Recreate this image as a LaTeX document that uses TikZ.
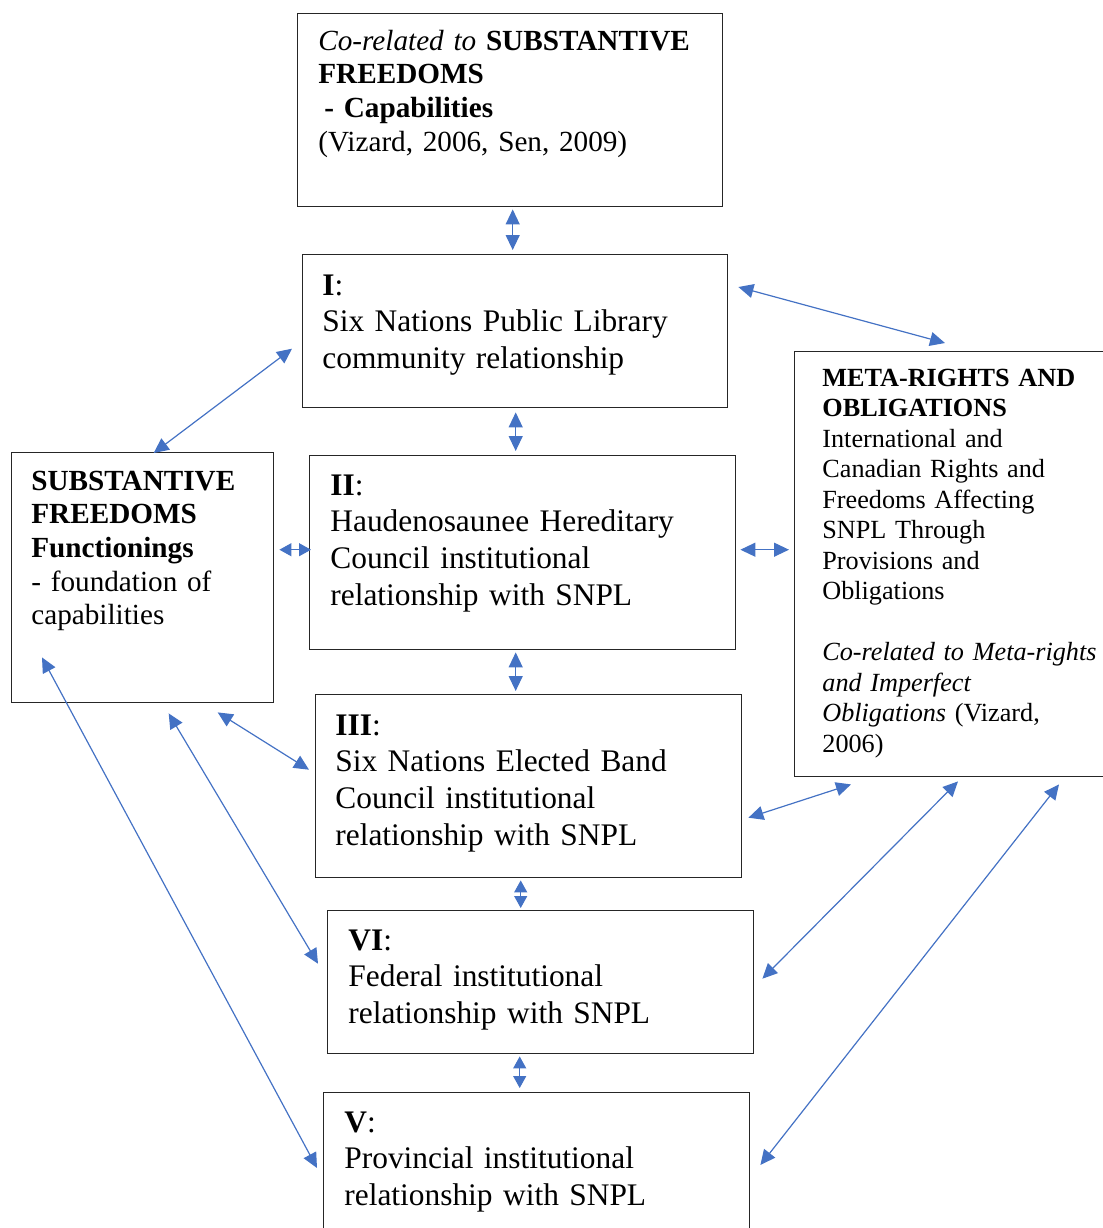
\documentclass[tikz,border=0pt]{standalone}
\usepackage{fontspec}
\setmainfont{Liberation Serif}
\usepackage{xcolor}
\usetikzlibrary{arrows.meta}
\definecolor{linkblue}{HTML}{4472C4}

\begin{document}
\begin{tikzpicture}[x=0.5pt,y=-0.5pt,
    box/.style={draw=black!85,line width=0.7pt,anchor=north west,inner sep=0pt},
    txt/.style={anchor=base west,inner sep=0pt,align=left,text width=200pt,
      font=\fontsize{15.7}{18.4}\selectfont},
    sidetxt/.style={txt,text width=128pt,font=\fontsize{14.6}{16.85}\selectfont},
    metatxt/.style={txt,text width=165pt,font=\fontsize{13.1}{15.25}\selectfont},
    link/.style={linkblue,line width=0.6pt,
      {Triangle[length=7.5pt,width=7pt]}-{Triangle[length=7.5pt,width=7pt]}},
    shortlink/.style={linkblue,line width=0.6pt,
      {Triangle[length=6pt,width=6.5pt]}-{Triangle[length=6pt,width=6.5pt]}}]
  \useasboundingbox (0,0) rectangle (1103,1228);
  \clip (0,0) rectangle (1103,1228);

  % Boxes
  \node[box,minimum width=212.5pt,minimum height=96.5pt] (top) at (297,13) {};
  \node[box,minimum width=212.5pt,minimum height=76.5pt] (I) at (302,254) {};
  \node[box,minimum width=213pt,minimum height=97pt] (II) at (309,455) {};
  \node[box,minimum width=213pt,minimum height=91.5pt] (III) at (315,694) {};
  \node[box,minimum width=213pt,minimum height=71.5pt] (VI) at (327,910) {};
  \node[box,minimum width=213pt,minimum height=85pt] (V) at (323,1092) {};
  \node[box,minimum width=131pt,minimum height=125pt] (left) at (11,452) {};
  \node[box,minimum width=165pt,minimum height=212.5pt] (meta) at (794,351) {};

  % Texts
  \node[sidetxt,text width=205pt] (toptxt) at (318,50)
    {\textit{Co-related to} \textbf{SUBSTANTIVE}\\
     \textbf{FREEDOMS}\\
     \hspace*{3pt}\textbf{- Capabilities}\\
     (Vizard, 2006, Sen, 2009)};
  \node[txt] (Itxt) at (322,295)
    {\textbf{I}:\\ Six Nations Public Library\\ community relationship};
  \node[txt] (IItxt) at (330,495)
    {\textbf{II}:\\ Haudenosaunee Hereditary\\ Council institutional\\ relationship with SNPL};
  \node[txt] (IIItxt) at (335,735)
    {\textbf{III}:\\ Six Nations Elected Band\\ Council institutional\\ relationship with SNPL};
  \node[txt] (VItxt) at (348,950)
    {\textbf{VI}:\\ Federal institutional\\ relationship with SNPL};
  \node[txt] (Vtxt) at (344,1132)
    {\textbf{V}:\\ Provincial institutional\\ relationship with SNPL};
  \node[sidetxt] (lefttxt) at (31,490)
    {\textbf{SUBSTANTIVE}\\ \textbf{FREEDOMS}\\ \textbf{Functionings}\\
     - foundation of\\ capabilities};
  \node[metatxt] (metatxt) at (822,386)
    {\textbf{META-RIGHTS AND}\\ \textbf{OBLIGATIONS}\\
     International and\\ Canadian Rights and\\ Freedoms Affecting\\
     SNPL Through\\ Provisions and\\ Obligations\\[15.25pt]
     \textit{Co-related to Meta-rights}\\ \textit{and Imperfect}\\
     \textit{Obligations} (Vizard,\\ 2006)};

  % Vertical links
  \draw[link] ([shift={(2.5,2)}]top.south) -- ([shift={(-2.5,-4)}]I.north);
  \draw[link] ([shift={(0.5,4)}]I.south) -- ([shift={(-7,-4)}]II.north);
  \draw[link] ([shift={(-7,2)}]II.south) -- ([shift={(-13,-3)}]III.north);
  \draw[shortlink] ([shift={(-8,2)}]III.south) -- ([shift={(-20,-2)}]VI.north);
  \draw[shortlink] ([shift={(-21,2)}]VI.south) -- ([shift={(-17,-4)}]V.north);

  % Links to the meta-rights box
  \draw[link] ([shift={(10,33)}]I.north east) -- ([shift={(151,-8)}]meta.north west);
  \draw[link] ([shift={(4,-3)}]II.east) -- ([shift={(-5,-14.5)}]meta.west);
  \draw[link] ([shift={(6,31.5)}]III.east) -- ([shift={(57,7)}]meta.south west);
  \draw[link] ([shift={(8,-3.5)}]VI.east) -- ([shift={(164,4)}]meta.south west);
  \draw[link] ([shift={(10,73)}]V.north east) -- ([shift={(265,7)}]meta.south west);

  % Links to the substantive freedoms box
  \draw[link] ([shift={(11,1)}]left.north) -- ([shift={(-10,17.5)}]I.west);
  \draw[shortlink] ([shift={(5,-28)}]left.east) -- ([shift={(2,-3)}]II.west);
  \draw[link] ([shift={(75,9)}]left.south) -- ([shift={(-6,-16.5)}]III.west);
  \draw[link] ([shift={(26,10)}]left.south) -- ([shift={(-9,-18.5)}]VI.west);
  \draw[link] ([shift={(31,-46)}]left.south west) -- ([shift={(-6,76)}]V.north west);
\end{tikzpicture}
\end{document}
